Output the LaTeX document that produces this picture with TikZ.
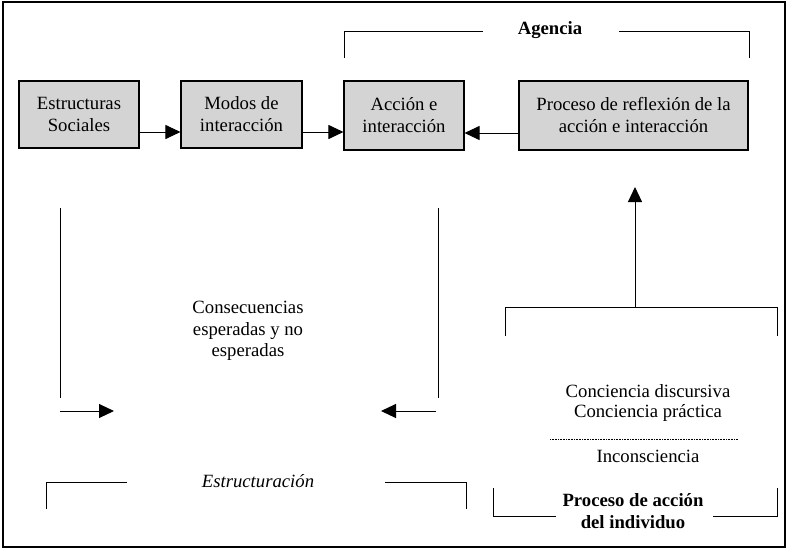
\documentclass[tikz,border=0pt]{standalone}
\usepackage{fontspec}
\setmainfont{Liberation Serif}
\usetikzlibrary{arrows.meta}
\definecolor{boxgray}{RGB}{212,212,212}
\tikzset{
  x=1pt, y=-1pt,
  box/.style={draw=black, line width=1.1pt, fill=boxgray, align=center, inner sep=0pt,
    font=\fontsize{18.7}{22}\selectfont},
  lbl/.style={align=center, inner sep=0pt, font=\fontsize{18.7}{21.5}\selectfont},
  ln/.style={line width=1pt},
  arr/.style={line width=1pt, -{Triangle[length=15pt,width=14pt]}}
}
\begin{document}
\begin{tikzpicture}
\useasboundingbox (0,0) rectangle (787,549);
\draw[line width=1.5pt] (3,2) rectangle (785,547);

% boxes
\node[box, minimum width=120pt, minimum height=67pt] (es) at (79,114.5) {Estructuras\\Sociales};
\node[box, minimum width=121pt, minimum height=67pt] (mo) at (241.5,114.5) {Modos de\\interacción};
\node[box, minimum width=120pt, minimum height=69pt] (ac) at (404,115.5) {Acción e\\interacción};
\node[box, minimum width=229pt, minimum height=69pt] (pr) at (633.5,115.5) {Proceso de reflexión de la\\acción e interacción};

\coordinate (ya) at (0,132);
\coordinate (yb) at (0,133);
\draw[arr] (es.east |- ya) -- (mo.west |- ya);
\draw[arr] (mo.east |- ya) -- (ac.west |- ya);
\draw[arr] (pr.west |- yb) -- (ac.east |- yb);

% Agencia bracket
\node[lbl, font=\fontsize{18.7}{21.5}\selectfont\bfseries] (ag) at (550,30) {Agencia};
\draw[ln] (344,58) -- (344,31) -- (483,31);
\draw[ln] (619,31) -- (749,31) -- (749,58);

% consequences
\node[lbl] (cons) at (248,331) {Consecuencias\\esperadas y no\\esperadas};
\draw[ln] (60,208) -- (60,398);
\draw[ln] (438,208) -- (438,398);
\coordinate (la0) at (60,411);
\coordinate (la1) at (114,411);
\coordinate (ra0) at (436,411);
\coordinate (ra1) at (381,411);
\draw[arr] (la0) -- (la1);
\draw[arr] (ra0) -- (ra1);

% Estructuracion bracket
\node[lbl, font=\fontsize{18.7}{21.5}\selectfont\itshape] (est) at (258,481) {Estructuración};
\draw[ln] (46,509) -- (46,482) -- (127,482);
\draw[ln] (385,482) -- (466,482) -- (466,509);

% individual process
\coordinate (btop) at (635,307);
\coordinate (atip) at (635,187);
\draw[arr] (btop) -- (atip);
\draw[ln] (505,336) -- (505,307) -- (777,307) -- (777,336);

\node[lbl, font=\fontsize{18.7}{20.5}\selectfont] (conc) at (648,403) {Conciencia discursiva\\Conciencia práctica};
\draw[line width=0.6pt, dash pattern=on 0.6pt off 1pt] (550,439) -- (738,439);
\node[lbl] (inc) at (648,456) {Inconsciencia};

\node[lbl, font=\fontsize{18.7}{22}\selectfont\bfseries] (pa) at (633,511) {Proceso de acción\\del individuo};
\draw[ln] (493,488) -- (493,516) -- (556,516);
\draw[ln] (713,516) -- (777,516) -- (777,488);
\end{tikzpicture}
\end{document}
